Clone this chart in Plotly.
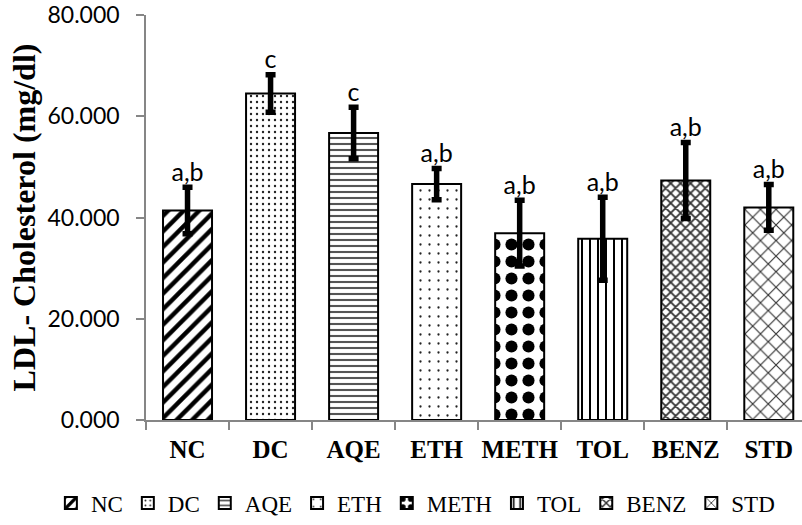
import plotly.graph_objects as go

categories = ["NC", "DC", "AQE", "ETH", "METH", "TOL", "BENZ", "STD"]
means = [41.4, 64.5, 56.7, 46.6, 36.9, 35.8, 47.3, 42.0]
errors = [4.6, 3.7, 5.1, 3.1, 6.5, 8.2, 7.5, 4.5]
letters = ["a,b", "c", "c", "a,b", "a,b", "a,b", "a,b", "a,b"]

patterns = {
    "NC": dict(shape="/", size=11, solidity=0.4, fgcolor="black"),
    "DC": dict(shape=".", size=6, solidity=0.12, fgcolor="#222"),
    "AQE": dict(shape="-", size=6, solidity=0.35, fgcolor="#555"),
    "ETH": dict(shape=".", size=9, solidity=0.05, fgcolor="#222"),
    "METH": dict(shape=".", size=17, solidity=0.4, fgcolor="black"),
    "TOL": dict(shape="|", size=8, solidity=0.25, fgcolor="black"),
    "BENZ": dict(shape="x", size=7, solidity=0.45, fgcolor="#333"),
    "STD": dict(shape="x", size=11, solidity=0.2, fgcolor="#333"),
}

fig = go.Figure()
for cat, m, e in zip(categories, means, errors):
    p = patterns[cat]
    fig.add_trace(go.Bar(
        x=[cat], y=[m], name=cat, width=0.59,
        marker=dict(color="white", line=dict(color="black", width=2),
                    pattern=dict(shape=p["shape"], size=p["size"], solidity=p["solidity"],
                                 fgcolor=p["fgcolor"], bgcolor="white", fillmode="replace")),
        error_y=dict(type="data", array=[e], visible=True, color="black",
                     thickness=5.5, width=5),
    ))

fig.add_trace(go.Scatter(
    x=categories, y=[m + e for m, e in zip(means, errors)], text=letters,
    mode="text", textposition="top center", showlegend=False,
    textfont=dict(family="Lato", size=25, color="black"), hoverinfo="skip",
))

fig.update_layout(
    width=802, height=525,
    margin=dict(l=146, r=0, t=12, b=102),
    paper_bgcolor="white", plot_bgcolor="white",
    barmode="overlay",
    showlegend=True,
    legend=dict(orientation="h", xref="paper", yref="paper",
                x=-0.145, xanchor="left", y=-0.205, yanchor="middle",
                font=dict(family="Liberation Serif", size=23, color="black"),
                itemwidth=30, tracegroupgap=0, traceorder="normal"),
    xaxis=dict(
        type="category", categoryorder="array", categoryarray=categories,
        range=[-0.5, 7.4], showline=True, linecolor="#868686", linewidth=1.5,
        ticks="outside", ticklen=8, tickcolor="#868686", tickwidth=1.5, tickson="boundaries",
        tickangle=0,
        tickfont=dict(family="Liberation Serif", size=25, color="black", weight="bold"),
        ticklabelstandoff=6, showgrid=False, zeroline=False,
    ),
    yaxis=dict(
        range=[0, 80.001], tickvals=[0, 20, 40, 60, 80], tickformat=".3f",
        showline=True, linecolor="#868686", linewidth=1.5,
        ticks="outside", ticklen=8, tickcolor="#868686", tickwidth=1.5,
        tickfont=dict(family="Lato", size=23, color="black"),
        ticklabelstandoff=12, ticklabeloverflow="allow", showgrid=False, zeroline=False,
        title=dict(text="LDL- Cholesterol (mg/dl)", standoff=2,
                   font=dict(family="Liberation Serif", size=32, color="black", weight="bold")),
    ),
)

fig.write_html("out.html")
